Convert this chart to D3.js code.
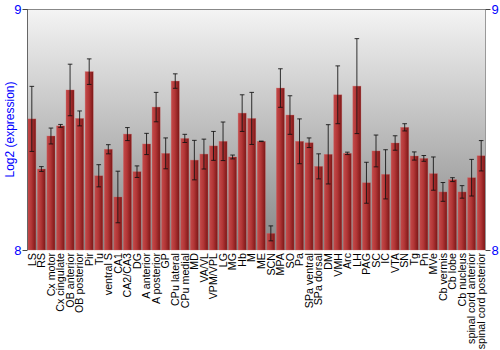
<!DOCTYPE html>
<html>
<head>
<meta charset="utf-8">
<script src="https://cdn.jsdelivr.net/npm/d3@7"></script>
<style>
body { margin: 0; background: #fff; }
svg text { font-family: "Liberation Sans", Arial, sans-serif; }
</style>
</head>
<body>
<svg id="chart" width="500" height="350"></svg>
<script>
var regions = ["LS", "RS", "Cx motor", "Cx cingulate", "OB anterior", "OB posterior", "Pir", "Tu",
    "ventral S", "CA1", "CA2/CA3", "DG", "A anterior", "A posterior", "GP", "CPu lateral", "CPu medial",
    "MD", "VA/VL", "VPM/VPL", "LG", "MG", "Hb", "M", "ME", "SCN", "MPA", "SO", "Pa", "SPa ventral",
    "SPa dorsal", "DM", "VMH", "Arc", "LH", "PAG", "SC", "IC", "VTA", "SN", "Tg", "Pn", "MVe",
    "Cb vermis", "Cb lobe", "Cb nucleus", "spinal cord anterior", "spinal cord posterior"];

var expression = [8.544, 8.336, 8.473, 8.515, 8.664, 8.546, 8.740, 8.308,
    8.418, 8.220, 8.481, 8.325, 8.440, 8.593, 8.401, 8.701, 8.463,
    8.373, 8.398, 8.432, 8.451, 8.386, 8.568, 8.546, 8.451, 8.069, 8.672, 8.560, 8.451, 8.445,
    8.347, 8.397, 8.644, 8.401, 8.680, 8.279, 8.411, 8.314, 8.444, 8.509, 8.390, 8.380, 8.317,
    8.241, 8.292, 8.241, 8.300, 8.391];

var errors = [0.135, 0.010, 0.033, 0.006, 0.107, 0.031, 0.053, 0.046,
    0.019, 0.107, 0.027, 0.024, 0.044, 0.061, 0.064, 0.030, 0.017,
    0.082, 0.062, 0.060, 0.080, 0.008, 0.076, 0.108, 0.001, 0.031, 0.080, 0.080, 0.093, 0.020,
    0.052, 0.123, 0.120, 0.005, 0.197, 0.085, 0.066, 0.102, 0.030, 0.015, 0.017, 0.012, 0.069,
    0.039, 0.008, 0.026, 0.076, 0.063];

var yTicks = [8, 9];

var plotLeft = 27, plotRight = 486, plotTop = 9, plotBottom = 250;

var svg = d3.select("#chart");
var defs = svg.append("defs");

var bg = defs.append("linearGradient").attr("id", "bgGrad")
    .attr("x1", 0).attr("y1", 0).attr("x2", 0).attr("y2", 1);
bg.append("stop").attr("offset", "0%").attr("stop-color", "#f4f4f4");
bg.append("stop").attr("offset", "100%").attr("stop-color", "#868686");

var barGrad = defs.append("linearGradient").attr("id", "barGrad")
    .attr("x1", 0).attr("y1", 0).attr("x2", 1).attr("y2", 0);
barGrad.append("stop").attr("offset", "0%").attr("stop-color", "#c44a4a");
barGrad.append("stop").attr("offset", "45%").attr("stop-color", "#b23636");
barGrad.append("stop").attr("offset", "100%").attr("stop-color", "#7c1616");

var x = d3.scaleBand().domain(regions).range([plotLeft, plotRight]).paddingInner(0.15).paddingOuter(0.08);
var y = d3.scaleLinear().domain([8, 9]).range([plotBottom, plotTop]);

var rows = regions.map(function(r, i) {
    return { name: r, value: expression[i], err: errors[i] };
});

// plot background
svg.append("rect")
    .attr("x", plotLeft).attr("y", plotTop)
    .attr("width", plotRight - plotLeft).attr("height", plotBottom - plotTop)
    .attr("fill", "url(#bgGrad)");

// bars
svg.selectAll("rect.bar")
    .data(rows)
    .enter()
    .append("rect")
    .attr("class", "bar")
    .attr("x", function(d) { return x(d.name); })
    .attr("y", function(d) { return y(d.value); })
    .attr("width", x.bandwidth())
    .attr("height", function(d) { return plotBottom - y(d.value); })
    .attr("fill", "url(#barGrad)")
    .attr("stroke", "#d06a6a")
    .attr("stroke-opacity", 0.5)
    .attr("stroke-width", 0.6);

// error bars
var eb = svg.selectAll("g.err")
    .data(rows)
    .enter()
    .append("g")
    .attr("class", "err")
    .attr("stroke", "#111")
    .attr("stroke-opacity", 0.85)
    .attr("stroke-width", 1);

eb.append("line")
    .attr("x1", function(d) { return x(d.name) + x.bandwidth() / 2; })
    .attr("x2", function(d) { return x(d.name) + x.bandwidth() / 2; })
    .attr("y1", function(d) { return y(d.value + d.err); })
    .attr("y2", function(d) { return y(d.value - d.err); });

[1, -1].forEach(function(s) {
    eb.append("line")
        .attr("x1", function(d) { return x(d.name) + x.bandwidth() / 2 - 2.3; })
        .attr("x2", function(d) { return x(d.name) + x.bandwidth() / 2 + 2.3; })
        .attr("y1", function(d) { return y(d.value + s * d.err); })
        .attr("y2", function(d) { return y(d.value + s * d.err); });
});

// frame
svg.append("line").attr("x1", plotLeft).attr("x2", plotRight).attr("y1", plotTop + 0.5).attr("y2", plotTop + 0.5)
    .attr("stroke", "#888");
svg.append("line").attr("x1", plotLeft + 0.5).attr("x2", plotLeft + 0.5).attr("y1", plotTop).attr("y2", plotBottom)
    .attr("stroke", "#666");
svg.append("line").attr("x1", plotRight - 0.5).attr("x2", plotRight - 0.5).attr("y1", plotTop).attr("y2", plotBottom)
    .attr("stroke", "#999");

// y axes, left and right
var leftAxis = d3.axisLeft(y).tickValues(yTicks).tickSize(5).tickPadding(1).tickFormat(d3.format("d"));
var rightAxis = d3.axisRight(y).tickValues(yTicks).tickSize(5).tickPadding(1).tickFormat(d3.format("d"));

var gl = svg.append("g").attr("transform", "translate(" + (plotLeft + 0.5) + ",0)").call(leftAxis);
var gr = svg.append("g").attr("transform", "translate(" + (plotRight - 0.5) + ",0)").call(rightAxis);
[gl, gr].forEach(function(g) {
    g.select(".domain").remove();
    g.selectAll(".tick line").attr("stroke", "#444");
    g.selectAll(".tick text").attr("fill", "#0000ff").attr("font-size", 13)
        .attr("font-family", "Liberation Sans, Arial, sans-serif");
});

// x labels
var xAxis = d3.axisBottom(x).tickSize(0).tickPadding(0);
var gx = svg.append("g").attr("transform", "translate(0," + plotBottom + ")").call(xAxis);
gx.select(".domain").remove();
gx.selectAll(".tick text")
    .attr("font-size", 10.7)
    .attr("font-family", "Liberation Sans, Arial, sans-serif")
    .attr("fill", "#000")
    .attr("text-anchor", "end")
    .attr("dy", "0.35em")
    .attr("transform", "translate(0,3) rotate(-90)")
    .attr("x", 0).attr("y", 0);

// y title
svg.append("text")
    .attr("transform", "translate(10," + ((plotTop + plotBottom) / 2) + ") rotate(-90)")
    .attr("text-anchor", "middle")
    .attr("dy", "0.35em")
    .attr("fill", "#0000ff")
    .attr("font-size", 12)
    .text("Log2 (expression)");
</script>
</body>
</html>
